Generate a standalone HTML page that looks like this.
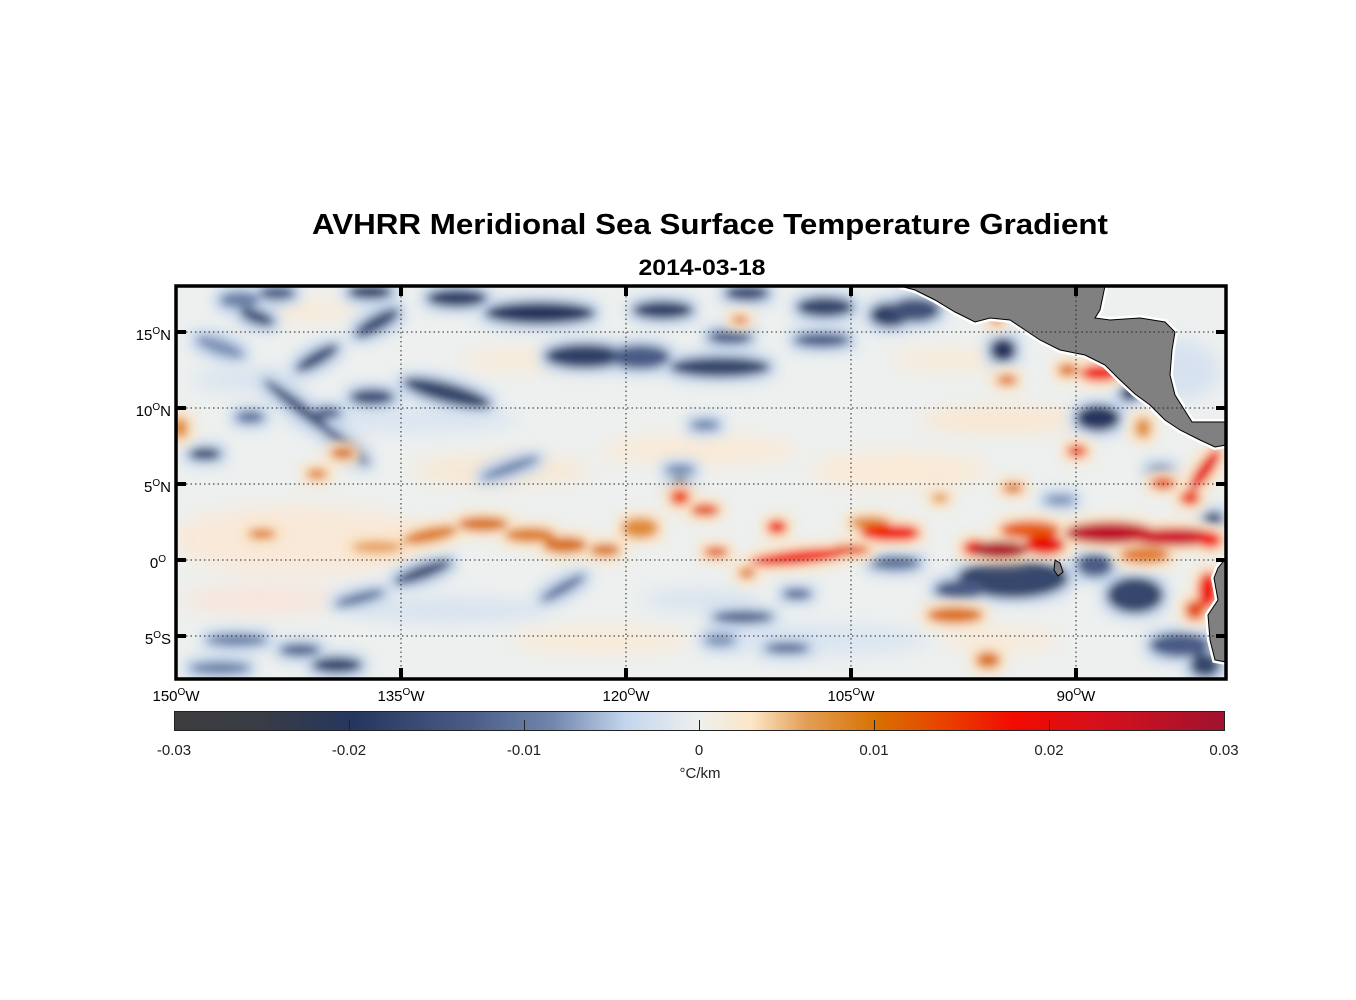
<!DOCTYPE html>
<html><head><meta charset="utf-8"><style>
html,body{margin:0;padding:0;background:#fff;}
svg{display:block;font-family:"Liberation Sans",Arial,sans-serif;}
</style></head><body>
<svg width="1356" height="1000" viewBox="0 0 1356 1000" xmlns="http://www.w3.org/2000/svg">
<defs>
<filter id="b2" x="-50%" y="-50%" width="200%" height="200%"><feGaussianBlur stdDeviation="9"/></filter>
<filter id="fb" x="-50%" y="-50%" width="200%" height="200%">
<feMorphology in="SourceAlpha" operator="dilate" radius="6" result="d"/>
<feFlood flood-color="#c3d4eb"/><feComposite in2="d" operator="in"/>
<feGaussianBlur stdDeviation="6" result="h"/>
<feGaussianBlur in="SourceGraphic" stdDeviation="4.5" result="s"/>
<feMerge><feMergeNode in="h"/><feMergeNode in="s"/></feMerge>
</filter>
<filter id="fo" x="-50%" y="-50%" width="200%" height="200%">
<feMorphology in="SourceAlpha" operator="dilate" radius="6" result="d"/>
<feFlood flood-color="#fbe2c2"/><feComposite in2="d" operator="in"/>
<feGaussianBlur stdDeviation="6" result="h"/>
<feGaussianBlur in="SourceGraphic" stdDeviation="4.5" result="s"/>
<feMerge><feMergeNode in="h"/><feMergeNode in="s"/></feMerge>
</filter>
<clipPath id="c"><rect x="177" y="287" width="1048" height="391"/></clipPath>
<linearGradient id="cb" x1="0" x2="1" y1="0" y2="0">
<stop offset="0" stop-color="#3c3c3e"/>
<stop offset="0.08" stop-color="#393c45"/>
<stop offset="0.17" stop-color="#25365e"/>
<stop offset="0.28" stop-color="#4a5c86"/>
<stop offset="0.36" stop-color="#7286ad"/>
<stop offset="0.43" stop-color="#c3d6ee"/>
<stop offset="0.5" stop-color="#eef0ee"/>
<stop offset="0.55" stop-color="#fce6c6"/>
<stop offset="0.6" stop-color="#e3a058"/>
<stop offset="0.67" stop-color="#d87000"/>
<stop offset="0.74" stop-color="#eb3c00"/>
<stop offset="0.8" stop-color="#f20a00"/>
<stop offset="0.88" stop-color="#d6101c"/>
<stop offset="1" stop-color="#a0132f"/>
</linearGradient>
</defs>

<text x="710" y="234" text-anchor="middle" font-size="29" font-weight="bold" textLength="796" lengthAdjust="spacingAndGlyphs">AVHRR Meridional Sea Surface Temperature Gradient</text>
<text x="702" y="275" text-anchor="middle" font-size="22" font-weight="bold" textLength="127" lengthAdjust="spacingAndGlyphs">2014-03-18</text>

<g clip-path="url(#c)">
<rect x="170" y="280" width="1070" height="410" fill="#edf0ef"/>
<g filter="url(#b2)" opacity="0.85">
<ellipse cx="300" cy="540" rx="130" ry="35" fill="#fbe8d6"/>
<ellipse cx="500" cy="470" rx="90" ry="14" fill="#fbe6cc"/>
<ellipse cx="260" cy="600" rx="80" ry="15" fill="#f9e4d8"/>
<ellipse cx="400" cy="420" rx="120" ry="12" fill="#d6e3f2"/>
<ellipse cx="700" cy="450" rx="100" ry="14" fill="#fde9d2"/>
<ellipse cx="900" cy="470" rx="90" ry="18" fill="#fde9d2"/>
<ellipse cx="820" cy="640" rx="110" ry="14" fill="#d6e3f2"/>
<ellipse cx="600" cy="640" rx="90" ry="12" fill="#fde9d2"/>
<ellipse cx="450" cy="610" rx="100" ry="12" fill="#d3e0f0"/>
<ellipse cx="1000" cy="420" rx="80" ry="12" fill="#fde4c8"/>
<ellipse cx="1180" cy="370" rx="40" ry="30" fill="#d3e0f0"/>
<ellipse cx="250" cy="380" rx="60" ry="10" fill="#d3e0f0"/>
<ellipse cx="520" cy="360" rx="60" ry="10" fill="#fde9d2"/>
<ellipse cx="950" cy="360" rx="60" ry="10" fill="#fde9d2"/>
<ellipse cx="300" cy="310" rx="60" ry="10" fill="#fde9d2"/>
<ellipse cx="700" cy="600" rx="60" ry="10" fill="#d3e0f0"/>
<ellipse cx="1000" cy="640" rx="60" ry="10" fill="#fde9d2"/>
</g>
<g filter="url(#fb)">
<ellipse cx="240" cy="300" rx="20" ry="8" fill="#6b80a6"/>
<ellipse cx="257" cy="317" rx="18" ry="7" fill="#3f5178" transform="rotate(20 257 317)"/>
<ellipse cx="277" cy="293" rx="18" ry="7" fill="#4d6088"/>
<ellipse cx="370" cy="292" rx="22" ry="7" fill="#2f4066"/>
<ellipse cx="457" cy="298" rx="30" ry="9" fill="#2f4066"/>
<ellipse cx="540" cy="313" rx="55" ry="11" fill="#25365e"/>
<ellipse cx="377" cy="323" rx="25" ry="8" fill="#3f5178" transform="rotate(-30 377 323)"/>
<ellipse cx="317" cy="358" rx="24" ry="7" fill="#3f5178" transform="rotate(-30 317 358)"/>
<ellipse cx="585" cy="356" rx="40" ry="12" fill="#2f4066"/>
<ellipse cx="720" cy="367" rx="50" ry="10" fill="#34466c"/>
<ellipse cx="640" cy="357" rx="30" ry="12" fill="#4a5c86"/>
<ellipse cx="447" cy="393" rx="45" ry="10" fill="#34466c" transform="rotate(15 447 393)"/>
<ellipse cx="372" cy="397" rx="22" ry="8" fill="#3f5178"/>
<ellipse cx="300" cy="408" rx="45" ry="6" fill="#3f5178" transform="rotate(38 300 408)"/>
<ellipse cx="345" cy="445" rx="30" ry="6" fill="#4a5c86" transform="rotate(40 345 445)"/>
<ellipse cx="327" cy="413" rx="14" ry="6" fill="#4d6088"/>
<ellipse cx="205" cy="454" rx="16" ry="6" fill="#2f4066"/>
<ellipse cx="250" cy="417" rx="14" ry="6" fill="#5a6f96"/>
<ellipse cx="220" cy="347" rx="25" ry="7" fill="#7e92b6" transform="rotate(20 220 347)"/>
<ellipse cx="663" cy="310" rx="30" ry="9" fill="#2f4066"/>
<ellipse cx="747" cy="293" rx="22" ry="8" fill="#3f5178"/>
<ellipse cx="825" cy="307" rx="28" ry="10" fill="#34466c"/>
<ellipse cx="890" cy="315" rx="20" ry="12" fill="#2f4066"/>
<ellipse cx="730" cy="337" rx="22" ry="7" fill="#4a5c86"/>
<ellipse cx="822" cy="340" rx="28" ry="7" fill="#4a5c86"/>
<ellipse cx="680" cy="470" rx="14" ry="5" fill="#6b80a6"/>
<ellipse cx="705" cy="425" rx="14" ry="5" fill="#6b80a6"/>
<ellipse cx="510" cy="468" rx="30" ry="5" fill="#6b80a6" transform="rotate(-20 510 468)"/>
<ellipse cx="680" cy="483" rx="8" ry="5" fill="#34466c"/>
<ellipse cx="423" cy="572" rx="30" ry="7" fill="#3f5178" transform="rotate(-20 423 572)"/>
<ellipse cx="337" cy="665" rx="25" ry="8" fill="#34466c"/>
<ellipse cx="300" cy="650" rx="20" ry="6" fill="#4d6088"/>
<ellipse cx="237" cy="640" rx="30" ry="6" fill="#6b80a6"/>
<ellipse cx="220" cy="668" rx="30" ry="6" fill="#6b80a6"/>
<ellipse cx="360" cy="598" rx="25" ry="5" fill="#5a6f96" transform="rotate(-15 360 598)"/>
<ellipse cx="563" cy="588" rx="25" ry="5" fill="#5a6f96" transform="rotate(-30 563 588)"/>
<ellipse cx="743" cy="617" rx="30" ry="6" fill="#4d6088"/>
<ellipse cx="787" cy="648" rx="22" ry="5" fill="#4d6088"/>
<ellipse cx="797" cy="594" rx="14" ry="5" fill="#4d6088"/>
<ellipse cx="895" cy="563" rx="25" ry="7" fill="#5a6f96"/>
<ellipse cx="720" cy="640" rx="15" ry="6" fill="#7e92b6"/>
<ellipse cx="915" cy="310" rx="25" ry="12" fill="#3f5178"/>
<ellipse cx="1003" cy="350" rx="13" ry="12" fill="#25365e"/>
<ellipse cx="1098" cy="418" rx="22" ry="13" fill="#25365e"/>
<ellipse cx="1130" cy="393" rx="10" ry="8" fill="#2f4066"/>
<ellipse cx="1013" cy="578" rx="55" ry="20" fill="#34466c"/>
<ellipse cx="960" cy="590" rx="25" ry="10" fill="#4a5c86"/>
<ellipse cx="1135" cy="595" rx="28" ry="18" fill="#34466c"/>
<ellipse cx="1095" cy="565" rx="18" ry="12" fill="#4a5c86"/>
<ellipse cx="1213" cy="519" rx="10" ry="7" fill="#34466c"/>
<ellipse cx="1180" cy="645" rx="30" ry="12" fill="#4a5c86"/>
<ellipse cx="1205" cy="665" rx="15" ry="12" fill="#34466c"/>
<ellipse cx="1060" cy="500" rx="15" ry="5" fill="#7e92b6"/>
<ellipse cx="1160" cy="470" rx="12" ry="5" fill="#7e92b6"/>
</g>
<g filter="url(#fo)">
<ellipse cx="180" cy="428" rx="8" ry="10" fill="#e08a30"/>
<ellipse cx="343" cy="453" rx="12" ry="6" fill="#d87000"/>
<ellipse cx="317" cy="474" rx="10" ry="5" fill="#dd7d1a"/>
<ellipse cx="262" cy="534" rx="14" ry="5" fill="#dd7d1a"/>
<ellipse cx="377" cy="547" rx="25" ry="6" fill="#e6a060"/>
<ellipse cx="430" cy="535" rx="28" ry="7" fill="#dd7d1a" transform="rotate(-12 430 535)"/>
<ellipse cx="483" cy="524" rx="25" ry="7" fill="#d87000"/>
<ellipse cx="530" cy="535" rx="25" ry="7" fill="#dc7a10"/>
<ellipse cx="565" cy="545" rx="22" ry="8" fill="#d87000"/>
<ellipse cx="605" cy="550" rx="15" ry="6" fill="#d87000"/>
<ellipse cx="640" cy="528" rx="18" ry="10" fill="#e08a30"/>
<ellipse cx="680" cy="497" rx="10" ry="8" fill="#ee4400"/>
<ellipse cx="705" cy="510" rx="14" ry="6" fill="#e44a00"/>
<ellipse cx="777" cy="527" rx="10" ry="7" fill="#f02000"/>
<ellipse cx="716" cy="552" rx="12" ry="5" fill="#e05000"/>
<ellipse cx="800" cy="557" rx="50" ry="7" fill="#f01800" transform="rotate(-6 800 557)"/>
<ellipse cx="850" cy="550" rx="20" ry="5" fill="#e45000"/>
<ellipse cx="747" cy="573" rx="8" ry="5" fill="#dc7000"/>
<ellipse cx="870" cy="523" rx="20" ry="6" fill="#dd7d1a"/>
<ellipse cx="888" cy="533" rx="28" ry="8" fill="#f01a00"/>
<ellipse cx="740" cy="320" rx="8" ry="4" fill="#e07000"/>
<ellipse cx="900" cy="533" rx="20" ry="8" fill="#f01000"/>
<ellipse cx="1030" cy="530" rx="30" ry="9" fill="#e65a00"/>
<ellipse cx="975" cy="548" rx="12" ry="8" fill="#f01000"/>
<ellipse cx="1000" cy="550" rx="28" ry="9" fill="#b0152c"/>
<ellipse cx="1045" cy="545" rx="20" ry="10" fill="#e81000"/>
<ellipse cx="1145" cy="555" rx="25" ry="8" fill="#e07a20"/>
<ellipse cx="1110" cy="533" rx="45" ry="11" fill="#c0102a"/>
<ellipse cx="1175" cy="537" rx="45" ry="9" fill="#d0102a"/>
<ellipse cx="1210" cy="540" rx="12" ry="8" fill="#f01000"/>
<ellipse cx="1205" cy="470" rx="25" ry="7" fill="#e81000" transform="rotate(-55 1205 470)"/>
<ellipse cx="1190" cy="498" rx="10" ry="7" fill="#ea3000"/>
<ellipse cx="1163" cy="483" rx="12" ry="6" fill="#e45000"/>
<ellipse cx="1100" cy="373" rx="20" ry="8" fill="#f01000"/>
<ellipse cx="1068" cy="370" rx="10" ry="6" fill="#dc7000"/>
<ellipse cx="1077" cy="451" rx="10" ry="6" fill="#ea4000"/>
<ellipse cx="1013" cy="488" rx="10" ry="5" fill="#dc7000"/>
<ellipse cx="1007" cy="380" rx="10" ry="5" fill="#dc7000"/>
<ellipse cx="997" cy="320" rx="6" ry="4" fill="#e07000"/>
<ellipse cx="1143" cy="428" rx="8" ry="10" fill="#e09040"/>
<ellipse cx="1208" cy="590" rx="10" ry="18" fill="#f01000"/>
<ellipse cx="1195" cy="610" rx="10" ry="10" fill="#e45000"/>
<ellipse cx="955" cy="615" rx="28" ry="8" fill="#dc7000"/>
<ellipse cx="988" cy="660" rx="12" ry="8" fill="#dc7000"/>
<ellipse cx="940" cy="498" rx="8" ry="4" fill="#e08a30"/>
</g>
<polygon points="900,286 1105,286 1100,310 1095,318 1110,320 1140,318 1165,322 1175,332 1172,350 1170,375 1175,395 1192,422 1226,422 1226,445 1215,447 1200,440 1180,430 1165,420 1150,405 1135,394 1118,378 1105,365 1085,355 1060,350 1040,340 1025,330 1010,320 990,318 975,322 955,312 935,300 915,290" fill="#fff" stroke="#fff" stroke-width="6"/>
<polygon points="900,286 1105,286 1100,310 1095,318 1110,320 1140,318 1165,322 1175,332 1172,350 1170,375 1175,395 1192,422 1226,422 1226,445 1215,447 1200,440 1180,430 1165,420 1150,405 1135,394 1118,378 1105,365 1085,355 1060,350 1040,340 1025,330 1010,320 990,318 975,322 955,312 935,300 915,290" fill="#808080" stroke="#000" stroke-width="1"/>
<polygon points="1226,558 1218,568 1214,578 1218,600 1208,615 1210,640 1215,660 1226,662" fill="#fff" stroke="#fff" stroke-width="6"/>
<polygon points="1226,558 1218,568 1214,578 1218,600 1208,615 1210,640 1215,660 1226,662" fill="#808080" stroke="#000" stroke-width="1"/>
<polygon points="1055,560 1060,563 1063,572 1058,576 1054,570" fill="#808080" stroke="#000" stroke-width="1"/>
</g>

<g stroke="#222" stroke-width="1" stroke-dasharray="1.5,3">
<line x1="401" y1="287" x2="401" y2="678"/>
<line x1="626" y1="287" x2="626" y2="678"/>
<line x1="851" y1="287" x2="851" y2="678"/>
<line x1="1076" y1="287" x2="1076" y2="678"/>
<line x1="177" y1="332" x2="1225" y2="332"/>
<line x1="177" y1="408" x2="1225" y2="408"/>
<line x1="177" y1="484" x2="1225" y2="484"/>
<line x1="177" y1="560" x2="1225" y2="560"/>
<line x1="177" y1="636" x2="1225" y2="636"/>
</g>
<g stroke="#000" stroke-width="4">
<line x1="401" y1="286" x2="401" y2="296"/><line x1="626" y1="286" x2="626" y2="296"/><line x1="851" y1="286" x2="851" y2="296"/><line x1="1076" y1="286" x2="1076" y2="296"/>
<line x1="401" y1="668" x2="401" y2="678"/><line x1="626" y1="668" x2="626" y2="678"/><line x1="851" y1="668" x2="851" y2="678"/><line x1="1076" y1="668" x2="1076" y2="678"/>
<line x1="176" y1="332" x2="186" y2="332"/><line x1="176" y1="408" x2="186" y2="408"/><line x1="176" y1="484" x2="186" y2="484"/><line x1="176" y1="560" x2="186" y2="560"/><line x1="176" y1="636" x2="186" y2="636"/>
<line x1="1216" y1="332" x2="1226" y2="332"/><line x1="1216" y1="408" x2="1226" y2="408"/><line x1="1216" y1="484" x2="1226" y2="484"/><line x1="1216" y1="560" x2="1226" y2="560"/><line x1="1216" y1="636" x2="1226" y2="636"/>
</g>
<rect x="176" y="286" width="1050" height="393" fill="none" stroke="#000" stroke-width="3.5"/>

<g font-size="15" fill="#000">
<text x="171" y="340" text-anchor="end">15<tspan dy="-6" font-size="10">O</tspan><tspan dy="6">N</tspan></text>
<text x="171" y="416" text-anchor="end">10<tspan dy="-6" font-size="10">O</tspan><tspan dy="6">N</tspan></text>
<text x="171" y="492" text-anchor="end">5<tspan dy="-6" font-size="10">O</tspan><tspan dy="6">N</tspan></text>
<text x="166" y="568" text-anchor="end">0<tspan dy="-6" font-size="10">O</tspan></text>
<text x="171" y="644" text-anchor="end">5<tspan dy="-6" font-size="10">O</tspan><tspan dy="6">S</tspan></text>
<text x="176" y="701" text-anchor="middle">150<tspan dy="-6" font-size="10">O</tspan><tspan dy="6">W</tspan></text>
<text x="401" y="701" text-anchor="middle">135<tspan dy="-6" font-size="10">O</tspan><tspan dy="6">W</tspan></text>
<text x="626" y="701" text-anchor="middle">120<tspan dy="-6" font-size="10">O</tspan><tspan dy="6">W</tspan></text>
<text x="851" y="701" text-anchor="middle">105<tspan dy="-6" font-size="10">O</tspan><tspan dy="6">W</tspan></text>
<text x="1076" y="701" text-anchor="middle">90<tspan dy="-6" font-size="10">O</tspan><tspan dy="6">W</tspan></text>
</g>

<rect x="174.5" y="711.5" width="1050" height="19" fill="url(#cb)" stroke="#222" stroke-width="1"/>
<g stroke="#222" stroke-width="1">
<line x1="349.5" y1="720" x2="349.5" y2="730"/><line x1="524.5" y1="720" x2="524.5" y2="730"/><line x1="699.5" y1="720" x2="699.5" y2="730"/><line x1="874.5" y1="720" x2="874.5" y2="730"/><line x1="1049.5" y1="720" x2="1049.5" y2="730"/>
</g>
<g font-size="15" fill="#222" text-anchor="middle">
<text x="174" y="755">-0.03</text>
<text x="349" y="755">-0.02</text>
<text x="524" y="755">-0.01</text>
<text x="699" y="755">0</text>
<text x="874" y="755">0.01</text>
<text x="1049" y="755">0.02</text>
<text x="1224" y="755">0.03</text>
<text x="700" y="778">°C/km</text>
</g>
</svg>
</body></html>
